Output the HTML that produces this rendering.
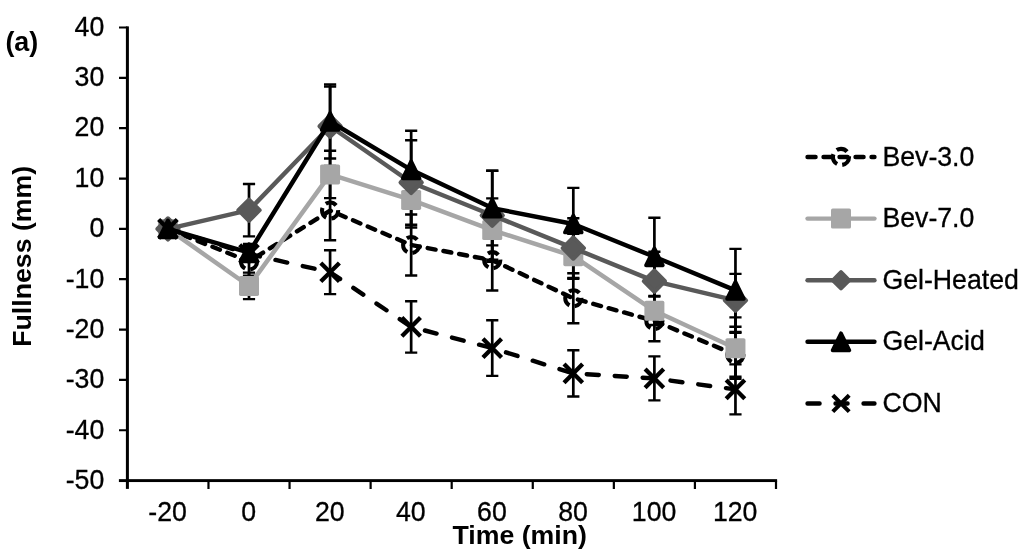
<!DOCTYPE html>
<html><head><meta charset="utf-8"><style>
html,body{margin:0;padding:0;background:#fff;}
svg{display:block;will-change:transform;filter:blur(0.4px);}
.t{font-family:"Liberation Sans",sans-serif;font-size:26.7px;fill:#000;stroke:#000;stroke-width:0.3px}
.b{font-family:"Liberation Sans",sans-serif;font-size:26.7px;font-weight:bold;fill:#000}
</style></head><body>
<svg width="1024" height="555" viewBox="0 0 1024 555">
<rect width="1024" height="555" fill="#fff"/>
<rect x="125.90" y="26.40" width="3" height="462.50" fill="#000"/>
<rect x="118.90" y="479.15" width="658.20" height="2.9" fill="#000"/>
<path d="M119.0,27.50H127.4M119.0,77.84H127.4M119.0,128.19H127.4M119.0,178.53H127.4M119.0,228.88H127.4M119.0,279.22H127.4M119.0,329.57H127.4M119.0,379.91H127.4M119.0,430.26H127.4M208.48,480.6V488.90000000000003M289.55,480.6V488.90000000000003M370.62,480.6V488.90000000000003M451.70,480.6V488.90000000000003M532.77,480.6V488.90000000000003M613.85,480.6V488.90000000000003M694.92,480.6V488.90000000000003M776.00,480.6V488.90000000000003" stroke="#000" stroke-width="2.2" fill="none"/>
<text transform="translate(104.30,35.50) scale(1,1.05)" text-anchor="end" class="t">40</text>
<text transform="translate(104.30,85.91) scale(1,1.05)" text-anchor="end" class="t">30</text>
<text transform="translate(104.30,136.32) scale(1,1.05)" text-anchor="end" class="t">20</text>
<text transform="translate(104.30,186.73) scale(1,1.05)" text-anchor="end" class="t">10</text>
<text transform="translate(104.30,237.14) scale(1,1.05)" text-anchor="end" class="t">0</text>
<text transform="translate(104.30,287.56) scale(1,1.05)" text-anchor="end" class="t">-10</text>
<text transform="translate(104.30,337.97) scale(1,1.05)" text-anchor="end" class="t">-20</text>
<text transform="translate(104.30,388.38) scale(1,1.05)" text-anchor="end" class="t">-30</text>
<text transform="translate(104.30,438.79) scale(1,1.05)" text-anchor="end" class="t">-40</text>
<text transform="translate(104.30,489.20) scale(1,1.05)" text-anchor="end" class="t">-50</text>
<text transform="translate(167.64,521.30) scale(1,1.05)" text-anchor="middle" class="t">-20</text>
<text transform="translate(248.71,521.30) scale(1,1.05)" text-anchor="middle" class="t">0</text>
<text transform="translate(329.79,521.30) scale(1,1.05)" text-anchor="middle" class="t">20</text>
<text transform="translate(410.86,521.30) scale(1,1.05)" text-anchor="middle" class="t">40</text>
<text transform="translate(491.94,521.30) scale(1,1.05)" text-anchor="middle" class="t">60</text>
<text transform="translate(573.01,521.30) scale(1,1.05)" text-anchor="middle" class="t">80</text>
<text transform="translate(654.09,521.30) scale(1,1.05)" text-anchor="middle" class="t">100</text>
<text transform="translate(735.16,521.30) scale(1,1.05)" text-anchor="middle" class="t">120</text>
<text x="519.7" y="544.3" text-anchor="middle" class="b">Time (min)</text>
<text transform="translate(31.3,256.3) rotate(-90)" text-anchor="middle" class="b">Fullness (mm)</text>
<text transform="translate(5.4,50.9) scale(1,1.02)" class="b" style="font-size:26.9px">(a)</text>
<path d="M249.01,247.40V275.60M330.09,180.90V240.30M411.16,214.50V275.50M492.24,229.90V290.50M573.31,273.30V323.30M654.39,302.70V341.20M735.46,332.90V376.70" stroke="#000" stroke-width="2.7" fill="none"/><path d="M242.91,247.40h12.2M242.91,275.60h12.2M323.99,180.90h12.2M323.99,240.30h12.2M405.06,214.50h12.2M405.06,275.50h12.2M486.14,229.90h12.2M486.14,290.50h12.2M567.21,273.30h12.2M567.21,323.30h12.2M648.29,302.70h12.2M648.29,341.20h12.2M729.36,332.90h12.2M729.36,376.70h12.2" stroke="#000" stroke-width="2.4" fill="none"/>
<path d="M249.01,272.60V299.10M330.09,150.70V198.10M411.16,172.30V227.50M492.24,198.40V261.80M573.31,233.70V278.70M654.39,296.60V325.00M735.46,317.40V378.90" stroke="#000" stroke-width="2.7" fill="none"/><path d="M242.91,272.60h12.2M242.91,299.10h12.2M323.99,150.70h12.2M323.99,198.10h12.2M405.06,172.30h12.2M405.06,227.50h12.2M486.14,198.40h12.2M486.14,261.80h12.2M567.21,233.70h12.2M567.21,278.70h12.2M648.29,296.60h12.2M648.29,325.00h12.2M729.36,317.40h12.2M729.36,378.90h12.2" stroke="#000" stroke-width="2.4" fill="none"/>
<path d="M249.01,184.00V236.40M330.09,86.60V165.90M411.16,140.20V224.80M492.24,170.80V259.80M573.31,218.30V277.90M654.39,251.70V310.60M735.46,273.90V326.70" stroke="#000" stroke-width="2.7" fill="none"/><path d="M242.91,184.00h12.2M242.91,236.40h12.2M323.99,86.60h12.2M323.99,165.90h12.2M405.06,140.20h12.2M405.06,224.80h12.2M486.14,170.80h12.2M486.14,259.80h12.2M567.21,218.30h12.2M567.21,277.90h12.2M648.29,251.70h12.2M648.29,310.60h12.2M729.36,273.90h12.2M729.36,326.70h12.2" stroke="#000" stroke-width="2.4" fill="none"/>
<path d="M249.01,243.90V261.30M330.09,84.50V158.50M411.16,130.70V208.90M492.24,170.80V245.40M573.31,187.90V260.10M654.39,217.70V295.90M735.46,248.90V331.90" stroke="#000" stroke-width="2.7" fill="none"/><path d="M242.91,243.90h12.2M242.91,261.30h12.2M323.99,84.50h12.2M323.99,158.50h12.2M405.06,130.70h12.2M405.06,208.90h12.2M486.14,170.80h12.2M486.14,245.40h12.2M567.21,187.90h12.2M567.21,260.10h12.2M648.29,217.70h12.2M648.29,295.90h12.2M729.36,248.90h12.2M729.36,331.90h12.2" stroke="#000" stroke-width="2.4" fill="none"/>
<path d="M249.01,246.00V262.00M330.09,250.30V294.10M411.16,301.20V352.60M492.24,320.30V375.90M573.31,350.30V396.50M654.39,356.40V400.40M735.46,364.40V414.40" stroke="#000" stroke-width="2.7" fill="none"/><path d="M242.91,246.00h12.2M242.91,262.00h12.2M323.99,250.30h12.2M323.99,294.10h12.2M405.06,301.20h12.2M405.06,352.60h12.2M486.14,320.30h12.2M486.14,375.90h12.2M567.21,350.30h12.2M567.21,396.50h12.2M648.29,356.40h12.2M648.29,400.40h12.2M729.36,364.40h12.2M729.36,414.40h12.2" stroke="#000" stroke-width="2.4" fill="none"/>
<polyline points="167.94,228.90 249.01,261.50 330.09,210.60 411.16,245.00 492.24,260.20 573.31,298.30 654.39,320.90 735.46,354.80" fill="none" stroke="#000" stroke-width="4.45" stroke-linecap="round" stroke-linejoin="round" stroke-dasharray="8 8"/>
<circle cx="167.94" cy="228.90" r="8.05" fill="none" stroke="#000" stroke-width="4.1" stroke-dasharray="11.3 5.28"/>
<circle cx="249.01" cy="261.50" r="8.05" fill="none" stroke="#000" stroke-width="4.1" stroke-dasharray="11.3 5.28"/>
<circle cx="330.09" cy="210.60" r="8.05" fill="none" stroke="#000" stroke-width="4.1" stroke-dasharray="11.3 5.28"/>
<circle cx="411.16" cy="245.00" r="8.05" fill="none" stroke="#000" stroke-width="4.1" stroke-dasharray="11.3 5.28"/>
<circle cx="492.24" cy="260.20" r="8.05" fill="none" stroke="#000" stroke-width="4.1" stroke-dasharray="11.3 5.28"/>
<circle cx="573.31" cy="298.30" r="8.05" fill="none" stroke="#000" stroke-width="4.1" stroke-dasharray="11.3 5.28"/>
<circle cx="654.39" cy="320.90" r="8.05" fill="none" stroke="#000" stroke-width="4.1" stroke-dasharray="11.3 5.28"/>
<circle cx="735.46" cy="354.80" r="8.05" fill="none" stroke="#000" stroke-width="4.1" stroke-dasharray="11.3 5.28"/>
<polyline points="167.94,228.90 249.01,286.00 330.09,174.40 411.16,199.90 492.24,230.10 573.31,256.20 654.39,310.80 735.46,348.15" fill="none" stroke="#a6a6a6" stroke-width="4.45" stroke-linecap="round" stroke-linejoin="round"/>
<rect x="157.94" y="218.90" width="20" height="20" rx="1.7" fill="#a6a6a6"/>
<rect x="239.01" y="276.00" width="20" height="20" rx="1.7" fill="#a6a6a6"/>
<rect x="320.09" y="164.40" width="20" height="20" rx="1.7" fill="#a6a6a6"/>
<rect x="401.16" y="189.90" width="20" height="20" rx="1.7" fill="#a6a6a6"/>
<rect x="482.24" y="220.10" width="20" height="20" rx="1.7" fill="#a6a6a6"/>
<rect x="563.31" y="246.20" width="20" height="20" rx="1.7" fill="#a6a6a6"/>
<rect x="644.39" y="300.80" width="20" height="20" rx="1.7" fill="#a6a6a6"/>
<rect x="725.46" y="338.15" width="20" height="20" rx="1.7" fill="#a6a6a6"/>
<polyline points="167.94,228.90 249.01,210.20 330.09,126.25 411.16,182.50 492.24,215.30 573.31,248.10 654.39,281.15 735.46,300.30" fill="none" stroke="#595959" stroke-width="4.45" stroke-linecap="round" stroke-linejoin="round"/>
<path d="M167.94,218.25L178.59,228.90L167.94,239.55L157.29,228.90Z" fill="#595959" stroke="#595959" stroke-width="4.0" stroke-linejoin="round"/>
<path d="M249.01,199.55L259.66,210.20L249.01,220.85L238.36,210.20Z" fill="#595959" stroke="#595959" stroke-width="4.0" stroke-linejoin="round"/>
<path d="M330.09,115.60L340.74,126.25L330.09,136.90L319.44,126.25Z" fill="#595959" stroke="#595959" stroke-width="4.0" stroke-linejoin="round"/>
<path d="M411.16,171.85L421.81,182.50L411.16,193.15L400.51,182.50Z" fill="#595959" stroke="#595959" stroke-width="4.0" stroke-linejoin="round"/>
<path d="M492.24,204.65L502.89,215.30L492.24,225.95L481.59,215.30Z" fill="#595959" stroke="#595959" stroke-width="4.0" stroke-linejoin="round"/>
<path d="M573.31,237.45L583.96,248.10L573.31,258.75L562.66,248.10Z" fill="#595959" stroke="#595959" stroke-width="4.0" stroke-linejoin="round"/>
<path d="M654.39,270.50L665.04,281.15L654.39,291.80L643.74,281.15Z" fill="#595959" stroke="#595959" stroke-width="4.0" stroke-linejoin="round"/>
<path d="M735.46,289.65L746.11,300.30L735.46,310.95L724.81,300.30Z" fill="#595959" stroke="#595959" stroke-width="4.0" stroke-linejoin="round"/>
<polyline points="167.94,228.90 249.01,252.60 330.09,121.50 411.16,169.80 492.24,208.10 573.31,224.00 654.39,256.80 735.46,290.40" fill="none" stroke="#000" stroke-width="4.45" stroke-linecap="round" stroke-linejoin="round"/>
<path d="M167.94,220.45L176.29,237.35L159.59,237.35Z" fill="#000" stroke="#000" stroke-width="3.8" stroke-linejoin="round"/>
<path d="M249.01,244.15L257.36,261.05L240.66,261.05Z" fill="#000" stroke="#000" stroke-width="3.8" stroke-linejoin="round"/>
<path d="M330.09,113.05L338.44,129.95L321.74,129.95Z" fill="#000" stroke="#000" stroke-width="3.8" stroke-linejoin="round"/>
<path d="M411.16,161.35L419.51,178.25L402.81,178.25Z" fill="#000" stroke="#000" stroke-width="3.8" stroke-linejoin="round"/>
<path d="M492.24,199.65L500.59,216.55L483.89,216.55Z" fill="#000" stroke="#000" stroke-width="3.8" stroke-linejoin="round"/>
<path d="M573.31,215.55L581.66,232.45L564.96,232.45Z" fill="#000" stroke="#000" stroke-width="3.8" stroke-linejoin="round"/>
<path d="M654.39,248.35L662.74,265.25L646.04,265.25Z" fill="#000" stroke="#000" stroke-width="3.8" stroke-linejoin="round"/>
<path d="M735.46,281.95L743.81,298.85L727.11,298.85Z" fill="#000" stroke="#000" stroke-width="3.8" stroke-linejoin="round"/>
<polyline points="167.94,228.90 249.01,254.00 330.09,272.20 411.16,326.90 492.24,348.10 573.31,373.40 654.39,378.40 735.46,389.40" fill="none" stroke="#000" stroke-width="4.45" stroke-linecap="round" stroke-linejoin="round" stroke-dasharray="12 16"/>
<path d="M158.64,219.60L177.24,238.20M177.24,219.60L158.64,238.20" stroke="#000" stroke-width="4.3" fill="none"/>
<path d="M239.71,244.70L258.31,263.30M258.31,244.70L239.71,263.30" stroke="#000" stroke-width="4.3" fill="none"/>
<path d="M320.79,262.90L339.39,281.50M339.39,262.90L320.79,281.50" stroke="#000" stroke-width="4.3" fill="none"/>
<path d="M401.86,317.60L420.46,336.20M420.46,317.60L401.86,336.20" stroke="#000" stroke-width="4.3" fill="none"/>
<path d="M482.94,338.80L501.54,357.40M501.54,338.80L482.94,357.40" stroke="#000" stroke-width="4.3" fill="none"/>
<path d="M564.01,364.10L582.61,382.70M582.61,364.10L564.01,382.70" stroke="#000" stroke-width="4.3" fill="none"/>
<path d="M645.09,369.10L663.69,387.70M663.69,369.10L645.09,387.70" stroke="#000" stroke-width="4.3" fill="none"/>
<path d="M726.16,380.10L744.76,398.70M744.76,380.10L726.16,398.70" stroke="#000" stroke-width="4.3" fill="none"/>
<path d="M807.55,156.9H874.45" stroke="#000" stroke-width="4.45" stroke-linecap="round" fill="none" stroke-dasharray="8 8"/>
<circle cx="841.00" cy="156.90" r="8.05" fill="none" stroke="#000" stroke-width="4.1" stroke-dasharray="11.3 5.28"/>
<text transform="translate(882.40,165.70) scale(1,1.05)" text-anchor="start" class="t">Bev-3.0</text>
<path d="M807.55,218.6H874.45" stroke="#a6a6a6" stroke-width="4.45" stroke-linecap="round" fill="none"/>
<rect x="831.00" y="208.60" width="20" height="20" rx="1.7" fill="#a6a6a6"/>
<text transform="translate(882.40,227.30) scale(1,1.05)" text-anchor="start" class="t">Bev-7.0</text>
<path d="M807.55,280.3H874.45" stroke="#595959" stroke-width="4.45" stroke-linecap="round" fill="none"/>
<path d="M841.00,272.20L849.10,280.30L841.00,288.40L832.90,280.30Z" fill="#595959" stroke="#595959" stroke-width="4.0" stroke-linejoin="round"/>
<text transform="translate(882.40,288.90) scale(1,1.05)" text-anchor="start" class="t">Gel-Heated</text>
<path d="M807.55,341.8H874.45" stroke="#000" stroke-width="4.45" stroke-linecap="round" fill="none"/>
<path d="M841.00,333.35L849.35,350.25L832.65,350.25Z" fill="#000" stroke="#000" stroke-width="3.8" stroke-linejoin="round"/>
<text transform="translate(882.40,350.30) scale(1,1.05)" text-anchor="start" class="t">Gel-Acid</text>
<path d="M807.55,403.4H874.45" stroke="#000" stroke-width="4.45" stroke-linecap="round" fill="none" stroke-dasharray="12 16"/>
<path d="M832.80,395.20L849.20,411.60M849.20,395.20L832.80,411.60" stroke="#000" stroke-width="4.1" fill="none"/>
<text transform="translate(882.40,411.80) scale(1,1.05)" text-anchor="start" class="t">CON</text>
</svg>
</body></html>
